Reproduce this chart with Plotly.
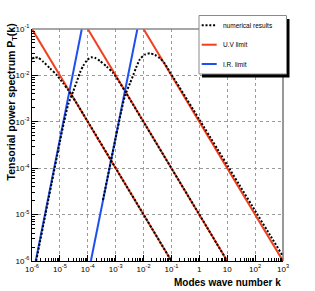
import plotly.graph_objects as go

# ---------------- data ----------------
# Numerical results: three spectra (k, P_T)
num1_k = [1e-6, 1.28e-6, 1.64e-6, 2.54e-6, 4.42e-6, 7.67e-6, 1.29e-5, 2.0e-5, 3.98e-5, 1e-1]
num1_p = [2.31e-2, 2.43e-2, 2.43e-2, 1.97e-2, 1.42e-2, 1.02e-2, 6.85e-3, 4.79e-3, 2.51e-3, 1e-6]

num2_k = [1.41e-6, 1e-5, 1.41e-5, 2.0e-5, 3.02e-5, 4.0e-5, 5.25e-5, 6.9e-5, 9.14e-5,
          1.12e-4, 1.38e-4, 1.78e-4, 2.74e-4, 4.75e-4, 8.2e-4, 1.43e-3, 2.51e-3, 10.0]
num2_p = [1e-6, 3.7e-4, 1e-3, 2.4e-3, 4.57e-3, 7.24e-3, 1.15e-2, 1.62e-2, 2.09e-2,
          2.34e-2, 2.45e-2, 2.4e-2, 2.04e-2, 1.55e-2, 1.12e-2, 6.84e-3, 3.94e-3, 1e-6]

num3_k = [3.5e-4, 1e-3, 1.58e-3, 2.15e-3, 3.26e-3, 4.28e-3, 5.35e-3, 7.43e-3, 1.12e-2,
          1.69e-2, 2.56e-2, 3.87e-2, 5.85e-2, 8.9e-2, 0.126, 1.0, 1e3]
num3_p = [2.06e-5, 4.47e-4, 1.66e-3, 3.63e-3, 6.76e-3, 1.02e-2, 1.45e-2, 2.24e-2, 2.82e-2,
          2.99e-2, 2.75e-2, 2.34e-2, 1.78e-2, 1.16e-2, 8.4e-3, 1.12e-3, 1.26e-6]

# U.V limit (straight power laws, endpoints)
uv1_k = [1e-6, 1e-1]
uv1_p = [1e-1, 1e-6]
uv2_k = [1e-4, 1e1]
uv2_p = [1e-1, 1e-6]
uv3_k = [1e-2, 1e3]
uv3_p = [1e-1, 1e-6]

# I.R. limit (straight power laws, endpoints)
ir1_k = [1.36e-6, 6.1e-5]
ir1_p = [1e-6, 1e-1]
ir2_k = [1.29e-4, 6.0e-3]
ir2_p = [1e-6, 1e-1]

# tick labels
x_tick_vals = [1e-6, 1e-5, 1e-4, 1e-3, 1e-2, 1e-1, 1, 10, 100, 1000]
x_tick_text = ["10<sup>-6</sup>", "10<sup>-5</sup>", "10<sup>-4</sup>", "10<sup>-3</sup>",
               "10<sup>-2</sup>", "10<sup>-1</sup>", "1", "10", "10<sup>2</sup>", "10<sup>3</sup>"]
y_tick_vals = [1e-6, 1e-5, 1e-4, 1e-3, 1e-2, 1e-1]
y_tick_text = ["10<sup>-6</sup>", "10<sup>-5</sup>", "10<sup>-4</sup>", "10<sup>-3</sup>",
               "10<sup>-2</sup>", "10<sup>-1</sup>"]

legend_labels = ["numerical results", "U.V limit", "I.R. limit"]

# ---------------- styling ----------------
RED = "#f0401e"
BLUE = "#1e50f0"
FONT = "Liberation Sans"
DOT = "2px,1.8px"

W, H = 315, 291
ML, MR, MT, MB = 32, 32, 29, 30
PW, PH = W - ML - MR, H - MT - MB


def px(x):
    return (x - ML) / PW


def py(y):
    return (H - MB - y) / PH


fig = go.Figure()

for k, p in [(uv1_k, uv1_p), (uv2_k, uv2_p), (uv3_k, uv3_p)]:
    fig.add_trace(go.Scatter(x=k, y=p, mode="lines", line=dict(color=RED, width=2),
                             showlegend=False, hoverinfo="skip"))
for k, p in [(ir1_k, ir1_p), (ir2_k, ir2_p)]:
    fig.add_trace(go.Scatter(x=k, y=p, mode="lines", line=dict(color=BLUE, width=2),
                             showlegend=False, hoverinfo="skip"))
for k, p in [(num1_k, num1_p), (num2_k, num2_p), (num3_k, num3_p)]:
    fig.add_trace(go.Scatter(x=k, y=p, mode="lines",
                             line=dict(color="black", width=2, dash=DOT, shape="spline", smoothing=0.6),
                             showlegend=False, hoverinfo="skip"))

minor_x = [m * 10.0 ** e for e in range(-6, 3) for m in range(2, 10)]
minor_y = [m * 10.0 ** e for e in range(-6, -1) for m in range(2, 10)]

axis_common = dict(
    type="log", ticks="inside", ticklen=6, tickcolor="black", tickwidth=1,
    showline=True, linecolor="black", linewidth=1,
    showgrid=True, gridcolor="#9a9a9a", griddash="dot", gridwidth=1,
    zeroline=False, tickfont=dict(family=FONT, size=8, color="black"),
)

fig.update_xaxes(range=[-6, 3], tickmode="array", tickvals=x_tick_vals, ticktext=x_tick_text,
                 minor=dict(tickmode="array", tickvals=minor_x, ticks="inside", ticklen=3,
                            tickcolor="black", showgrid=False),
                 **axis_common)
fig.update_yaxes(range=[-6, -1], tickmode="array", tickvals=y_tick_vals, ticktext=y_tick_text,
                 minor=dict(tickmode="array", tickvals=minor_y, ticks="inside", ticklen=3,
                            tickcolor="black", showgrid=False),
                 **axis_common)

shapes = [
    # frame top and right
    dict(type="line", xref="paper", yref="paper", x0=0, x1=1, y0=1, y1=1,
         line=dict(color="#888888", width=1.5)),
    dict(type="line", xref="paper", yref="paper", x0=1, x1=1, y0=0, y1=1,
         line=dict(color="#333333", width=1)),
    # legend shadow and box
    dict(type="rect", xref="paper", yref="paper", x0=px(202), x1=px(289.5), y0=py(77.5), y1=py(19),
         fillcolor="black", line=dict(width=0)),
    dict(type="rect", xref="paper", yref="paper", x0=px(199), x1=px(286.5), y0=py(74), y1=py(15.5),
         fillcolor="white", line=dict(color="#8a8a8a", width=1)),
]

legend_y = [25.3, 44.7, 64.0]
legend_styles = [dict(color="black", width=2, dash=DOT),
                 dict(color=RED, width=2), dict(color=BLUE, width=2)]
annotations = []
for lab, ly, st in zip(legend_labels, legend_y, legend_styles):
    shapes.append(dict(type="line", xref="paper", yref="paper", x0=px(201.7), x1=px(216.7),
                       y0=py(ly), y1=py(ly), line=st))
    annotations.append(dict(text=lab, xref="paper", yref="paper", x=px(220.5), y=py(ly),
                            xanchor="left", yanchor="middle", showarrow=False,
                            font=dict(family=FONT, size=6.5, color="black")))

annotations.append(dict(text="<b>Modes wave number k</b>", xref="paper", yref="paper",
                        x=px(283), y=py(282), xanchor="right", yanchor="middle", showarrow=False,
                        font=dict(family=FONT, size=10, color="black")))
annotations.append(dict(text="<b>Tensorial power spectrum P<sub>T</sub>(k)</b>", xref="paper", yref="paper",
                        x=px(11), y=py(22), xanchor="center", yanchor="top", textangle=-90,
                        showarrow=False, font=dict(family=FONT, size=10.5, color="black")))

fig.update_layout(
    width=W, height=H, margin=dict(l=ML, r=MR, t=MT, b=MB),
    paper_bgcolor="white", plot_bgcolor="white", showlegend=False,
    shapes=shapes, annotations=annotations,
)

fig.write_html("out.html", config={"displayModeBar": False},
               post_script="document.body.style.margin='0';")
